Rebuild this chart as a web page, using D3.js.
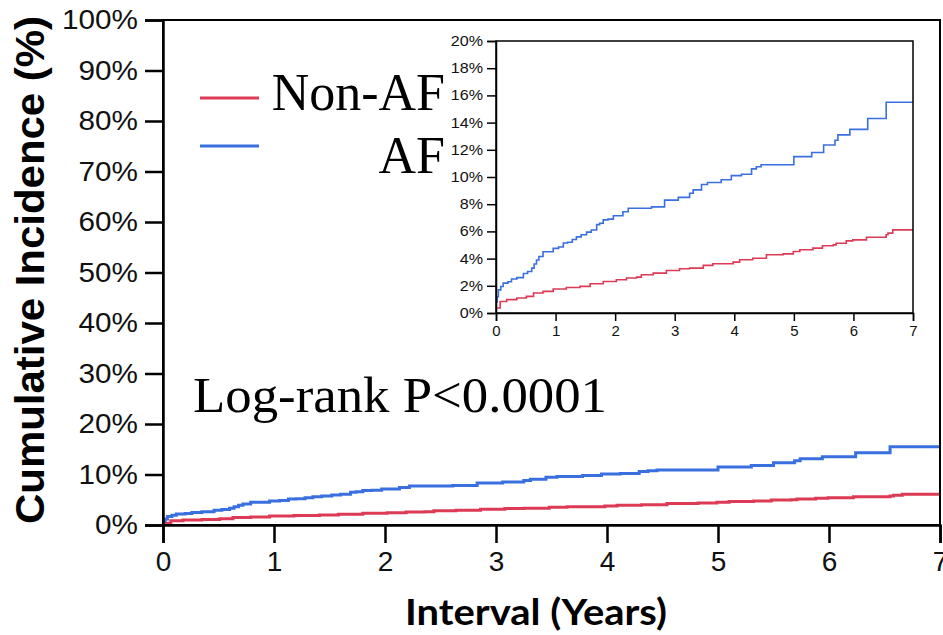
<!DOCTYPE html>
<html>
<head>
<meta charset="utf-8">
<script src="https://cdn.jsdelivr.net/npm/d3@7"></script>
<style>
  body { margin: 0; background: #fff; }
  svg { display: block; }
</style>
</head>
<body>
<div id="chart"></div>
<script>
// cumulative incidence, step curves (years, percent)
var yearsAF = [0, 0.02, 0.04, 0.08, 0.12, 0.2, 0.26, 0.35, 0.46, 0.53, 0.6, 0.64, 0.68, 0.72, 0.79, 0.96, 1.05, 1.13, 1.2, 1.28, 1.35, 1.43, 1.52, 1.6, 1.69, 1.74, 1.8, 1.88, 1.97, 2.13, 2.22, 2.61, 2.83, 3.06, 3.25, 3.31, 3.45, 3.55, 3.78, 3.95, 4.12, 4.29, 4.37, 4.45, 5.0, 5.3, 5.5, 5.69, 5.74, 5.94, 6.24, 6.55, 7];
var pctAF = [0.8, 1.2, 1.7, 1.95, 2.2, 2.3, 2.5, 2.6, 2.9, 3.05, 3.3, 3.6, 3.9, 4.15, 4.5, 4.75, 4.85, 5.15, 5.2, 5.4, 5.6, 5.75, 5.95, 6.1, 6.5, 6.6, 6.85, 6.9, 7.15, 7.45, 7.7, 7.8, 8.3, 8.5, 8.8, 9.05, 9.45, 9.6, 9.8, 10.1, 10.2, 10.6, 10.75, 10.9, 11.5, 11.8, 12.35, 12.7, 13.1, 13.5, 14.3, 15.5, 15.5];
var yearsNonAF = [0, 0.07, 0.18, 0.35, 0.51, 0.63, 0.79, 0.96, 1.18, 1.41, 1.58, 1.8, 2.02, 2.19, 2.36, 2.44, 2.64, 2.86, 3.08, 3.25, 3.48, 3.64, 3.98, 4.09, 4.31, 4.54, 4.82, 4.99, 5.1, 5.32, 5.48, 5.66, 5.71, 5.88, 5.99, 6.22, 6.55, 6.58, 6.66, 7];
var pctNonAF = [0.37, 0.85, 0.98, 1.1, 1.22, 1.47, 1.59, 1.76, 1.88, 1.96, 2.15, 2.32, 2.44, 2.57, 2.64, 2.81, 2.93, 3.13, 3.25, 3.3, 3.5, 3.62, 3.74, 3.91, 4.03, 4.28, 4.35, 4.52, 4.65, 4.77, 4.94, 5.01, 5.13, 5.3, 5.38, 5.57, 5.75, 5.87, 6.11, 6.11];

var seriesNames = ['Non-AF', 'AF'];
var xTicks = [0, 1, 2, 3, 4, 5, 6, 7];
var mainYTicks = [0, 10, 20, 30, 40, 50, 60, 70, 80, 90, 100];
var insetYTicks = [0, 2, 4, 6, 8, 10, 12, 14, 16, 18, 20];

var RED = '#dc3a55', BLUE = '#3a6fdf';

var W = 943, H = 635;
var svg = d3.select('#chart').append('svg').attr('width', W).attr('height', H);

var toPts = function(xs, ys) { return xs.map(function(t, i) { return [t, ys[i]]; }); };
var curves = [
  { pts: toPts(yearsNonAF, pctNonAF), color: RED },
  { pts: toPts(yearsAF, pctAF), color: BLUE }
];

// ---------- main plot ----------
var x = d3.scaleLinear().domain([0, 7]).range([163, 940]);
var y = d3.scaleLinear().domain([0, 100]).range([525, 20]);

var line = d3.line().curve(d3.curveStepAfter)
  .x(function(d) { return x(d[0]); })
  .y(function(d) { return y(d[1]); });

svg.selectAll('.mainline').data(curves).enter().append('path')
  .attr('class', 'mainline')
  .attr('d', function(d) { return line(d.pts); })
  .attr('fill', 'none').attr('stroke', function(d) { return d.color; })
  .attr('stroke-width', 3);

// frame (top / right)
svg.append('rect').attr('x', x(0)).attr('y', y(100))
  .attr('width', x(7) - x(0)).attr('height', y(0) - y(100))
  .attr('fill', 'none').attr('stroke', '#000').attr('stroke-width', 2);

var yAx = svg.append('g').attr('transform', 'translate(' + x(0) + ',0)')
  .call(d3.axisLeft(y).tickValues(mainYTicks).tickSize(18).tickPadding(7)
    .tickFormat(function(d) { return d + '%'; }));
yAx.select('.domain').attr('stroke-width', 2.5);
yAx.selectAll('.tick line').attr('stroke-width', 2.5);
yAx.selectAll('text')
  .attr('font-family', 'Liberation Sans, Arial, sans-serif')
  .attr('font-size', 27).attr('fill', '#111')
  .attr('x', -25 / 1.1).attr('transform', 'scale(1.1,1)');

var xAx = svg.append('g').attr('transform', 'translate(0,' + y(0) + ')')
  .call(d3.axisBottom(x).tickValues(xTicks).tickSize(18).tickPadding(8)
    .tickFormat(d3.format('d')));
xAx.select('.domain').attr('stroke-width', 2.5);
xAx.selectAll('.tick line').attr('stroke-width', 2.5);
xAx.selectAll('text')
  .attr('font-family', 'Liberation Sans, Arial, sans-serif')
  .attr('font-size', 28).attr('fill', '#111');

// axis titles
svg.append('text')
  .attr('transform', 'translate(44,270) rotate(-90)')
  .attr('text-anchor', 'middle')
  .attr('font-family', 'Liberation Sans, Arial, sans-serif')
  .attr('font-weight', 'bold').attr('font-size', 40)
  .attr('textLength', 508).attr('lengthAdjust', 'spacingAndGlyphs')
  .text('Cumulative Incidence (%)');

svg.append('text')
  .attr('x', 536).attr('y', 625)
  .attr('text-anchor', 'middle')
  .attr('font-family', 'Lato, sans-serif')
  .attr('font-weight', 'bold').attr('font-size', 36)
  .attr('textLength', 262).attr('lengthAdjust', 'spacingAndGlyphs')
  .text('Interval (Years)');

// legend
var legend = svg.append('g');
var legY = [98, 146], legBase = [110, 173];
seriesNames.forEach(function(name, i) {
  legend.append('line')
    .attr('x1', 200).attr('x2', 259).attr('y1', legY[i]).attr('y2', legY[i])
    .attr('stroke', curves[i].color).attr('stroke-width', 3);
  legend.append('text')
    .attr('x', 445).attr('y', legBase[i])
    .attr('text-anchor', 'end')
    .attr('font-family', 'Liberation Serif, Times New Roman, serif')
    .attr('font-size', 52).attr('fill', '#000')
    .text(name);
});

svg.append('text')
  .attr('x', 193).attr('y', 412)
  .attr('font-family', 'Liberation Serif, Times New Roman, serif')
  .attr('font-size', 50)
  .attr('textLength', 414).attr('lengthAdjust', 'spacingAndGlyphs')
  .text('Log-rank P<0.0001');

// ---------- inset ----------
var xi = d3.scaleLinear().domain([0, 7]).range([496, 913]);
var yi = d3.scaleLinear().domain([0, 20]).range([313, 41]);

var inset = svg.append('g');
inset.append('rect').attr('x', xi(0)).attr('y', yi(20))
  .attr('width', xi(7) - xi(0)).attr('height', yi(0) - yi(20))
  .attr('fill', '#fff');

var lineI = d3.line().curve(d3.curveStepAfter)
  .x(function(d) { return xi(d[0]); })
  .y(function(d) { return yi(d[1]); });

inset.selectAll('.insetline').data(curves).enter().append('path')
  .attr('class', 'insetline')
  .attr('d', function(d) { return lineI(d.pts); })
  .attr('fill', 'none').attr('stroke', function(d) { return d.color; })
  .attr('stroke-width', 1.6);

inset.append('rect').attr('x', xi(0)).attr('y', yi(20))
  .attr('width', xi(7) - xi(0)).attr('height', yi(0) - yi(20))
  .attr('fill', 'none').attr('stroke', '#000').attr('stroke-width', 1.5);

var yiAx = inset.append('g').attr('transform', 'translate(' + xi(0) + ',0)')
  .call(d3.axisLeft(yi).tickValues(insetYTicks).tickSize(9).tickPadding(4)
    .tickFormat(function(d) { return d + '%'; }));
yiAx.select('.domain').attr('stroke-width', 1.5);
yiAx.selectAll('.tick line').attr('stroke-width', 1.5);
yiAx.selectAll('text')
  .attr('font-family', 'Liberation Sans, Arial, sans-serif')
  .attr('font-size', 14).attr('fill', '#111')
  .attr('x', -13 / 1.15).attr('transform', 'scale(1.15,1)');

var xiAx = inset.append('g').attr('transform', 'translate(0,' + yi(0) + ')')
  .call(d3.axisBottom(xi).tickValues(xTicks).tickSize(8).tickPadding(4)
    .tickFormat(d3.format('d')));
xiAx.select('.domain').attr('stroke-width', 1.5);
xiAx.selectAll('.tick line').attr('stroke-width', 1.5);
xiAx.selectAll('text')
  .attr('font-family', 'Liberation Sans, Arial, sans-serif')
  .attr('font-size', 15).attr('fill', '#111');
</script>
</body>
</html>
